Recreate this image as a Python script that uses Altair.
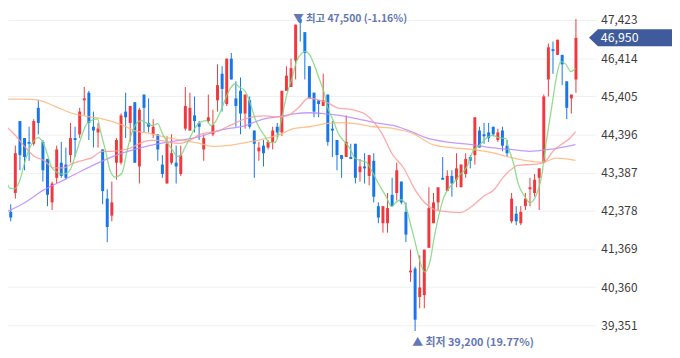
import altair as alt
import pandas as pd

# ---- candle data (KRW) ----
opens = [42050, 42350, 42850, 44750, 44300, 44200, 44150, 45100, 44200, 43750,
         42600, 43250, 43650, 43600, 43850, 44300, 44400, 45300, 45500, 44600,
         44450, 44000, 42700, 42250, 43650, 43650, 45000, 44700, 45250, 43550,
         45450, 44700, 44400, 44400, 43600, 43100, 43650, 43650, 43350, 44550,
         44500, 44900, 44700, 44000, 44750, 44400, 45300, 46000, 45200, 46400,
         45350, 45550, 44950, 45300, 44500, 43950, 44100, 44050, 44200, 44600,
         44450, 45550, 45650, 46350, 47450, 47100, 46200, 45500, 45300, 45150,
         45450, 44550, 44250, 43850, 43800, 43800, 44150, 43400, 43550, 43300,
         43700, 42500, 42050, 42050, 42800, 42850, 43150, 42350, 40750, 40850,
         40100, 40150, 41400, 42050, 42600, 43250, 42900, 43300, 43200, 43000,
         43350, 43800, 43850, 44500, 44400, 44450, 44600, 44250, 44500, 44100,
         42100, 42300, 42050, 42500, 42950, 42850, 43250, 43650, 45850, 46650,
         46500, 46500, 45800, 45350, 45850]
closes = [42100, 42200, 43900, 43850, 43800, 44150, 44750, 44700, 43450, 42800,
          43100, 44000, 43300, 43250, 44300, 44250, 45000, 45350, 44700, 44500,
          44550, 42900, 41950, 42600, 44250, 44900, 44850, 45150, 43650, 45050,
          45100, 44600, 44600, 44000, 43350, 44150, 43900, 43550, 43850, 45150,
          45100, 44750, 44600, 44300, 44850, 44650, 45700, 45600, 46400, 45850,
          45150, 44950, 45450, 44600, 44150, 44050, 43900, 44200, 44500, 44450,
          45550, 45950, 46150, 47300, 47350, 46550, 45350, 45000, 45200, 45300,
          44200, 44500, 43850, 43750, 44200, 43750, 43250, 43550, 43500, 43850,
          42750, 42200, 42500, 42450, 42500, 43450, 42600, 41750, 40800, 39500,
          40350, 41350, 42450, 42600, 43000, 43200, 43300, 43100, 43500, 43600,
          43750, 43700, 44850, 44050, 44350, 44300, 44400, 44450, 44100, 43900,
          42700, 42100, 42350, 42700, 43000, 43200, 43500, 45400, 46700, 46600,
          46900, 46250, 45100, 45450, 46950]
highs = [42200, 42550, 44100, 44750, 44300, 44600, 44800, 45300, 44250, 43750,
         43150, 44100, 44200, 44050, 44700, 44600, 45100, 45650, 45550, 45000,
         44700, 44000, 42950, 43150, 44300, 44950, 45500, 45150, 45250, 45100,
         45450, 45350, 44800, 44400, 43850, 44350, 44400, 44100, 44100, 45650,
         45500, 45400, 44750, 44400, 45450, 45050, 46250, 46200, 46400, 46550,
         45800, 45900, 45450, 45400, 44500, 44200, 44250, 44250, 44600, 44700,
         45550, 46200, 46400, 47300, 47500, 47100, 46200, 45500, 45300, 46000,
         45450, 44750, 44250, 43850, 44900, 44150, 44150, 43750, 43900, 43850,
         43900, 42600, 42500, 42850, 43250, 43650, 43150, 42600, 41350, 40900,
         41200, 41350, 43000, 42850, 43000, 43800, 43450, 43450, 43900, 43600,
         43900, 43850, 44850, 44600, 44700, 44700, 44600, 44550, 44600, 44250,
         42850, 42500, 42500, 42850, 43250, 43350, 43500, 45450, 46800, 46850,
         46900, 46500, 45800, 45450, 47450]
lows = [41800, 42100, 42700, 43450, 43450, 43700, 44100, 44400, 43150, 42500,
        42400, 43100, 43250, 43200, 43650, 43800, 44300, 44900, 44250, 44050,
        44050, 42550, 41550, 42100, 43200, 43600, 44300, 44200, 43650, 43100,
        44450, 44450, 44300, 43700, 43250, 43100, 43600, 43100, 43300, 44500,
        44500, 44450, 44250, 43700, 44700, 44350, 45000, 45000, 45150, 45850,
        44600, 44400, 44550, 44550, 43250, 43700, 43550, 44000, 44000, 44300,
        44350, 45550, 45650, 45850, 46850, 45850, 45350, 44850, 44850, 45150,
        44100, 43800, 43450, 43250, 43800, 43750, 43100, 43150, 43100, 43050,
        42600, 42050, 41800, 41800, 42500, 42650, 42550, 41550, 40500, 39200,
        39800, 39800, 41400, 42050, 42400, 43200, 42900, 42750, 43000, 43000,
        43250, 43500, 43600, 44050, 44150, 44200, 44350, 44200, 43950, 43800,
        42050, 42000, 42000, 42400, 42500, 42750, 42400, 43650, 45400, 46000,
        46500, 45700, 44800, 44950, 45500]

# ---- moving averages: (candle position, price) ----
ma5_pos = [-0.2, 0.8, 1.9, 3.0, 4.0, 5.1, 6.1, 7.0, 8.0, 8.9, 9.9, 11.0, 12.1, 13.1,
           14.2, 15.2, 16.3, 17.3, 18.4, 19.9, 20.5, 21.6, 22.6, 23.7, 25.2, 26.2,
           27.3, 28.3, 29.4, 30.4, 31.9, 33.0, 34.0, 35.1, 36.2, 37.2, 37.8, 38.9,
           40.0, 41.0, 42.1, 43.6, 44.6, 45.7, 46.7, 47.8, 48.8, 49.9, 50.5, 52.0,
           53.1, 54.1, 55.2, 56.2, 57.3, 58.4, 59.0, 60.0, 61.1, 62.2, 63.2, 64.3,
           65.1, 66.0, 67.0, 68.1, 69.1, 70.0, 71.2, 72.3, 73.8, 74.8, 75.9, 77.0,
           78.4, 79.7, 81.2, 82.7, 83.9, 85.0, 86.0, 86.9, 87.9, 89.0, 90.1, 91.1,
           92.2, 93.2, 94.3, 95.3, 96.4, 97.5, 98.7, 100.2, 101.7, 103.0, 104.4,
           105.9, 107.2, 108.7, 109.3, 110.4, 111.4, 112.9, 114.0, 115.4, 116.5,
           117.5, 118.6, 119.7, 120.7, 121.8, 122.9, 123.9]
ma5_val = [43240, 42980, 42960, 43190, 43640, 44030, 44240, 44310, 44180, 43900,
           43530, 43400, 43350, 43370, 43530, 43900, 44310, 44630, 44760, 44810,
           44500, 43980, 43450, 43270, 43370, 43900, 44420, 44680, 44760, 44710,
           44630, 44680, 44420, 44180, 43980, 43820, 43820, 44050, 44310, 44550,
           44710, 44760, 44630, 44760, 45020, 45360, 45620, 45730, 45670, 45540,
           45230, 44840, 44550, 44370, 44180, 44180, 44290, 44840, 45460, 45880,
           46330, 46540, 46590, 46510, 46250, 45880, 45540, 45100, 44760, 44420,
           44180, 44030, 43770, 43710, 43660, 43400, 43060, 42750, 42490, 42620,
           42670, 42540, 42070, 41550, 41020, 40760, 41020, 41700, 42330, 42750,
           42980, 43140, 43320, 43530, 43980, 44110, 44290, 44370, 44310, 44290,
           44050, 43640, 43110, 42750, 42590, 42800, 43270, 44160, 45020, 45880,
           46330, 46250, 46060, 46140]

ma20_pos = [-0.2, 1.9, 4.0, 6.1, 8.2, 10.4, 12.5, 14.6, 16.7, 18.8, 20.9, 23.0, 25.2,
            27.3, 29.4, 31.5, 33.6, 35.7, 37.8, 40.0, 42.1, 46.3, 49.0, 52.0, 56.2,
            59.0, 61.1, 63.6, 65.8, 67.9, 70.0, 72.1, 74.2, 76.3, 78.4, 80.1, 81.8,
            83.9, 86.5, 89.0, 91.1, 93.2, 95.3, 98.7, 101.3, 104.0, 106.1, 108.2,
            109.7, 111.4, 115.6, 117.1, 119.2, 121.4, 122.8, 123.9]
ma20_val = [44630, 44390, 44080, 43820, 43710, 43510, 43510, 43640, 43710, 43790,
            43950, 43950, 43980, 44050, 44180, 44240, 44240, 44180, 44160, 44240,
            44390, 44500, 44650, 44810, 44890, 44860, 44890, 45100, 45360, 45310,
            45230, 45100, 45070, 45020, 44910, 44710, 44420, 43900, 43510, 42930,
            42590, 42410, 42360, 42330, 42490, 42770, 42930, 43270, 43450, 43580,
            43610, 43660, 43980, 44180, 44310, 44470]

ma60_pos = [-0.2, 3.4, 6.8, 10.4, 14.0, 18.2, 20.9, 25.2, 27.9, 31.5, 35.1, 38.5,
            42.1, 44.8, 48.4, 52.0, 55.4, 59.0, 62.6, 66.0, 69.6, 73.2, 75.9, 80.1,
            84.4, 88.6, 92.8, 97.0, 101.3, 105.5, 109.7, 113.9, 116.7, 119.7, 123.9]
ma60_val = [45330, 45330, 45310, 45150, 44970, 44860, 44810, 44650, 44500, 44420,
            44310, 44240, 44160, 44080, 44110, 44180, 44260, 44370, 44550, 44600,
            44680, 44710, 44680, 44600, 44550, 44420, 44130, 44050, 44000, 43920,
            43790, 43690, 43660, 43770, 43710]

ma120_pos = [-0.2, 4.0, 8.2, 12.5, 16.7, 20.9, 25.2, 29.4, 33.6, 37.8, 42.1, 46.3,
             52.0, 56.2, 59.0, 62.6, 66.0, 69.6, 73.2, 76.5, 80.1, 84.4, 88.6, 91.3,
             97.0, 101.3, 105.5, 109.7, 113.9, 118.2, 123.9]
ma120_val = [42330, 42590, 42930, 43190, 43450, 43690, 43900, 44050, 44160, 44240,
             44340, 44500, 44630, 44810, 44860, 44940, 44970, 44940, 44890, 44810,
             44710, 44630, 44450, 44310, 44180, 44130, 44050, 44000, 43950, 44000,
             44130]

tick_values = [39351, 40360, 41369, 42378, 43387, 44396, 45405, 46414, 47423]

high_label = "▼ 최고 47,500 (-1.16%)"
low_label = "▲ 최저 39,200 (19.77%)"
last_label = "46,950"

RED = "#f0393d"
BLUE = "#1677e8"

n = len(opens)
candles = pd.DataFrame({"i": list(range(n)), "open": opens, "close": closes,
                        "high": highs, "low": lows})
up = candles[[c >= o for o, c in zip(opens, closes)]]
down = candles[[c < o for o, c in zip(opens, closes)]]

xscale = alt.Scale(domain=[1.48, 127.27], nice=False, zero=False)
yscale = alt.Scale(domain=[38542, 47684], nice=False, zero=False)
font = "Noto Sans CJK KR"

yaxis = alt.Axis(orient="right", values=tick_values, format=",d", grid=True,
                 gridColor="#eff0f2", gridWidth=1, domain=False, ticks=False,
                 labelPadding=5, labelFontSize=12, labelColor="#3c3c3c",
                 labelFont=font, title=None)

X = alt.X("i:Q", scale=xscale, axis=None)


def Y(field):
    return alt.Y(field, scale=yscale, axis=yaxis, title=None)


def candle_layers(df, col):
    b = alt.Chart(df)
    w = b.mark_rule(strokeWidth=1, color=col).encode(x=X, y=Y("low:Q"), y2="high:Q")
    r = b.mark_bar(size=3, color=col).encode(x=X, y=Y("open:Q"), y2="close:Q")
    return [w, r]


def ma_layer(pos, val, col):
    d = pd.DataFrame({"i": pos, "v": val})
    return alt.Chart(d).mark_line(interpolate="monotone", strokeWidth=1.3,
                                  color=col, opacity=0.85).encode(x=X, y=Y("v:Q"))


ann_hi = pd.DataFrame({"i": [64], "v": [47500], "t": [high_label]})
ann_lo = pd.DataFrame({"i": [89], "v": [39200], "t": [low_label]})
hi_text = alt.Chart(ann_hi).mark_text(align="left", baseline="middle", dx=-7, dy=2,
                                      font=font, fontSize=10.5, fontWeight="bold",
                                      color="#6478b4").encode(x=X, y=Y("v:Q"), text="t:N")
lo_text = alt.Chart(ann_lo).mark_text(align="left", baseline="middle", dx=-3, dy=12,
                                      font=font, fontSize=11, fontWeight="bold",
                                      color="#6478b4").encode(x=X, y=Y("v:Q"), text="t:N")

last = pd.DataFrame({"v": [closes[-1]], "t": [last_label]})
tag_shape = "M -1 0 L -0.786 -0.205 L 1 -0.205 L 1 0.205 L -0.786 0.205 Z"
tag = alt.Chart(last).mark_point(shape=tag_shape, size=7056, filled=True, opacity=1,
                                 color="#3f5b9b", strokeWidth=0).encode(
    x=alt.value(630), y=Y("v:Q"))
tag_text = alt.Chart(last).mark_text(align="left", baseline="middle", font=font,
                                     fontSize=12.5, color="white").encode(
    x=alt.value(600), y=Y("v:Q"), text="t:N")

layers = (candle_layers(down, BLUE) + candle_layers(up, RED) +
          [ma_layer(ma120_pos, ma120_val, "#b98aff"),
           ma_layer(ma60_pos, ma60_val, "#ffb67a"),
           ma_layer(ma20_pos, ma20_val, "#ff9a9a"),
           ma_layer(ma5_pos, ma5_val, "#7fd77b"),
           hi_text, lo_text, tag, tag_text])

chart = alt.layer(*layers).properties(
    width=595, height=350,
    background="white",
    autosize=alt.AutoSizeParams(type="none"),
    padding={"left": 0, "top": 0, "right": 77, "bottom": 0},
).configure_view(strokeWidth=0, stroke=None)

chart.save("out.html", embed_options={"renderer": "svg", "actions": False})
